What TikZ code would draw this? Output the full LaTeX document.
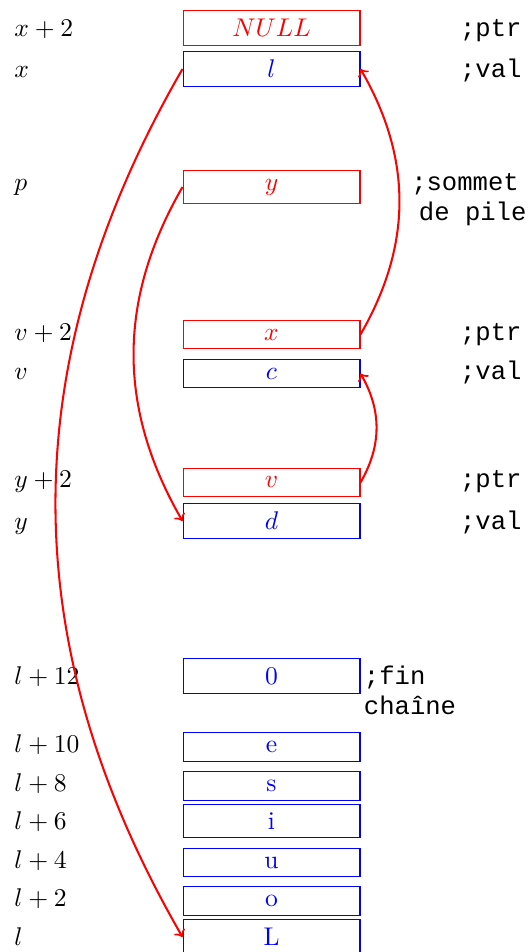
\documentclass[tikz,border=0pt]{standalone}
\usepackage{fontspec}
\setmonofont{Liberation Mono}

\tikzset{
    ptr/.style={draw=red, text=red, minimum width=2.43cm},
    val/.style={draw=blue, text=blue, minimum width=2.43cm},
    adr/.style={anchor=base west, inner sep=0pt},
    cmt/.style={font=\ttfamily, anchor=base west, inner sep=0pt, align=left},
    lnk/.style={->, red, thick},
  }

\begin{document}
\begin{tikzpicture}
    \useasboundingbox (0,0) rectangle (7.277,-13.072);
    \coordinate (adrcol) at (0.192,0);
    \coordinate (cmtcol) at (6.31,0);

    % maillon x
    \node[ptr] (mx2) at (3.728,-0.384) {$NULL$};
    \node[val] (mx) at (3.728,-0.947) {$l$};
    % sommet de pile
    \node[ptr] (mp) at (3.728,-2.568) {$y$};
    % maillon v
    \node[ptr] (mv2) at (3.728,-4.593) {$x$};
    \node[val] (mv) at (3.728,-5.129) {$c$};
    % maillon y
    \node[ptr] (my2) at (3.728,-6.625) {$v$};
    \node[val] (my) at (3.728,-7.154) {$d$};
    % la chaine
    \node[val] (ml12) at (3.728,-9.282) {0};
    \node[val] (ml10) at (3.728,-10.257) {e};
    \node[val] (ml8) at (3.728,-10.793) {s};
    \node[val] (ml6) at (3.728,-11.273) {i};
    \node[val] (ml4) at (3.728,-11.843) {u};
    \node[val] (ml2) at (3.728,-12.372) {o};
    \node[val] (ml) at (3.728,-12.866) {L};

    % adresses
    \node[adr] at (adrcol |- mx2.base) {$x+2$};
    \node[adr] at (adrcol |- mx.base) {$x$};
    \node[adr] at (adrcol |- mp.base) {$p$};
    \node[adr] at (adrcol |- mv2.base) {$v+2$};
    \node[adr] at (adrcol |- mv.base) {$v$};
    \node[adr] at (adrcol |- my2.base) {$y+2$};
    \node[adr] at (adrcol |- my.base) {$y$};
    \node[adr] at (adrcol |- ml12.base) {$l+12$};
    \node[adr] at (adrcol |- ml10.base) {$l+10$};
    \node[adr] at (adrcol |- ml8.base) {$l+8$};
    \node[adr] at (adrcol |- ml6.base) {$l+6$};
    \node[adr] at (adrcol |- ml4.base) {$l+4$};
    \node[adr] at (adrcol |- ml2.base) {$l+2$};
    \node[adr] at (adrcol |- ml.base) {$l$};

    % commentaires (deux lignes: base = derniere ligne)
    \node[cmt] at (cmtcol |- mx2.base) {;ptr};
    \node[cmt] at (cmtcol |- mx.base) {;val};
    \node[cmt, yshift=-12pt] at (5.64,0 |- mp.base) {;sommet\\\hspace*{3pt}de pile};
    \node[cmt] at (cmtcol |- mv2.base) {;ptr};
    \node[cmt] at (cmtcol |- mv.base) {;val};
    \node[cmt] at (cmtcol |- my2.base) {;ptr};
    \node[cmt] at (cmtcol |- my.base) {;val};
    \node[cmt, yshift=-12pt] at (4.99,0 |- ml12.base) {;fin\\cha\^ine};

    % pointeurs
    \draw[lnk] (mx.west) to[bend right] (ml.west);
    \draw[lnk] (mp.west) to[bend right] (my.west);
    \draw[lnk] (mv2.east) to[bend right] (mx.east);
    \draw[lnk] (my2.east) to[bend right] (mv.east);
\end{tikzpicture}
\end{document}
